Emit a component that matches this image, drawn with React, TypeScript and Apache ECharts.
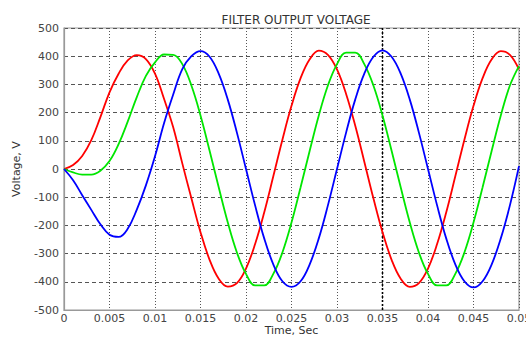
import React, { useEffect, useRef } from "react";
import * as echarts from "echarts";

const times = [
  0, 0.001, 0.002, 0.003, 0.004, 0.005, 0.006, 0.007, 0.008, 0.009,
  0.01, 0.011, 0.012, 0.013, 0.014, 0.015, 0.016, 0.017, 0.018, 0.019,
  0.02, 0.021, 0.022, 0.023, 0.024, 0.025, 0.026, 0.027, 0.028, 0.029,
  0.03, 0.031, 0.032, 0.033, 0.034, 0.035, 0.036, 0.037, 0.038, 0.039,
  0.04, 0.041, 0.042, 0.043, 0.044, 0.045, 0.046, 0.047, 0.048, 0.049, 0.05,
];

const redVoltage = [
  0, 14, 46, 102, 184, 272, 338, 385, 404, 390,
  338, 248, 148, 20, -104, -224, -322, -389, -417, -405,
  -353, -266, -154, -26, 104, 224, 322, 389, 420, 405,
  353, 266, 154, 26, -104, -224, -322, -389, -418, -405,
  -353, -266, -154, -26, 104, 224, 322, 389, 418, 405, 353,
];

const greenVoltage = [
  0, -12, -20, -20, -6, 28, 88, 168, 255, 330,
  378, 406, 405, 372, 296, 190, 65, -65, -190, -296,
  -372, -413, -413, -372, -296, -190, -65, 65, 190, 296,
  372, 413, 413, 372, 296, 190, 65, -65, -190, -296,
  -372, -413, -413, -372, -296, -190, -65, 65, 190, 296, 365,
];

const blueVoltage = [
  0, -40, -93, -145, -196, -233, -241, -212, -144, -58,
  45, 163, 264, 354, 400, 418, 398, 338, 246, 129,
  0, -129, -246, -338, -398, -418, -398, -338, -246, -129,
  0, 129, 246, 338, 398, 421, 398, 338, 246, 129,
  0, -129, -246, -338, -398, -420, -398, -338, -246, -129, 10,
];

// vertical cursor line at t = 0.035 s spanning the full voltage range
const cursorTimes = [0.035, 0.035];
const cursorVoltage = [-500, 500];

const titleText = "FILTER OUTPUT VOLTAGE";
const xName = "Time, Sec";
const yName = "Voltage, V";

const FONT = "DejaVu Sans";

export default function App() {
  const ref = useRef<HTMLDivElement>(null);

  useEffect(() => {
    if (!ref.current) return;
    const chart = echarts.init(ref.current, null, { renderer: "svg" });
    const pairs = (xs: number[], vals: number[]) => xs.map((t, i) => [t, vals[i]]);
    const lineSeries = (name: string, vals: number[], color: string) => ({
      name,
      type: "line",
      data: pairs(times, vals),
      smooth: 0.4,
      showSymbol: false,
      symbol: "none",
      lineStyle: { color, width: 1.8 },
      z: 3,
    });
    chart.setOption({
      animation: false,
      backgroundColor: "#fff",
      title: {
        text: titleText,
        left: 291,
        textAlign: "center",
        top: 9,
        textStyle: { fontFamily: FONT, fontSize: 12, fontWeight: "normal", color: "#333" },
      },
      grid: {
        left: 64,
        right: 7,
        top: 28,
        bottom: 28,
        outerBoundsMode: "none",
        containLabel: false,
        show: true,
        borderColor: "#999",
        borderWidth: 1.2,
        backgroundColor: "transparent",
      },
      xAxis: {
        type: "value",
        min: 0,
        max: 0.05,
        interval: 0.005,
        name: xName,
        nameLocation: "middle",
        nameGap: 15,
        nameMoveOverlap: false,
        nameTextStyle: { fontFamily: FONT, fontSize: 11, color: "#333", verticalAlign: "top" },
        axisLine: { show: true, onZero: false, lineStyle: { color: "#999", width: 1.2 } },
        axisTick: { show: false },
        axisLabel: {
          fontFamily: FONT,
          fontSize: 11,
          color: "#444",
          margin: 3,
          formatter: (v: number) => String(+v.toFixed(3)),
        },
        splitLine: { show: true, lineStyle: { color: "#555", type: [1, 2], width: 1 } },
      },
      yAxis: {
        type: "value",
        min: -500,
        max: 500,
        interval: 100,
        name: yName,
        nameLocation: "middle",
        nameGap: 42,
        nameMoveOverlap: false,
        nameTextStyle: { fontFamily: FONT, fontSize: 11, color: "#333" },
        axisLine: { show: true, onZero: false, lineStyle: { color: "#999", width: 1.2 } },
        axisTick: { show: false },
        axisLabel: { fontFamily: FONT, fontSize: 11, color: "#444", margin: 5 },
        splitLine: { show: true, lineStyle: { color: "#555", type: [4, 3], width: 1 } },
      },
      series: [
        {
          name: "Cursor",
          type: "line",
          data: pairs(cursorTimes, cursorVoltage),
          showSymbol: false,
          symbol: "none",
          silent: true,
          lineStyle: { color: "#000", type: [2, 2], width: 1.6 },
          z: 1,
        },
        lineSeries("Phase A", redVoltage, "#ff0000"),
        lineSeries("Phase B", greenVoltage, "#00e600"),
        lineSeries("Phase C", blueVoltage, "#0000ff"),
      ],
    });
    return () => chart.dispose();
  }, []);

  return (
    <div
      ref={ref}
      style={{ position: "absolute", left: 0, top: 0, width: 526, height: 338 }}
    />
  );
}
